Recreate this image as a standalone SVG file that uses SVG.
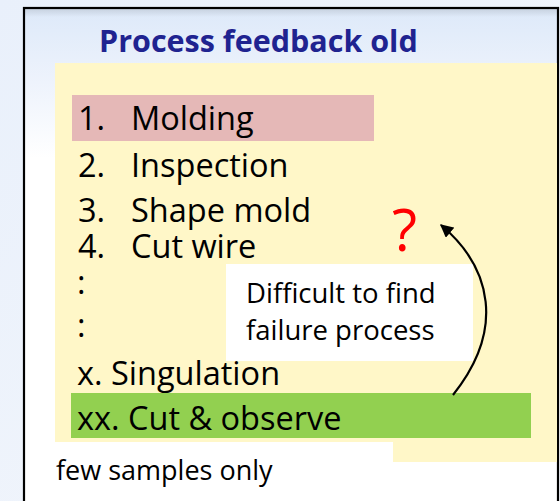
<svg xmlns="http://www.w3.org/2000/svg" width="560" height="501" viewBox="0 0 560 501">
<defs>
<linearGradient id="bg" x1="0" y1="0" x2="1" y2="1">
<stop offset="0" stop-color="#e9f0fb"/>
<stop offset="1" stop-color="#f4f7fc"/>
</linearGradient>
<linearGradient id="inner" x1="0" y1="0" x2="0" y2="1">
<stop offset="0" stop-color="#dde9f9"/>
<stop offset="0.15" stop-color="#eef3fc"/>
<stop offset="0.3" stop-color="#ffffff"/>
<stop offset="1" stop-color="#ffffff"/>
</linearGradient>
<linearGradient id="shadow" x1="0" y1="0" x2="0" y2="1">
<stop offset="0" stop-color="#b9c2cf"/>
<stop offset="1" stop-color="#b9c2cf" stop-opacity="0"/>
</linearGradient>
<marker id="ah" viewBox="0 0 10 10" refX="9" refY="5" markerWidth="6" markerHeight="6" orient="auto" markerUnits="strokeWidth">
<path d="M0,0 L10,5 L0,10 z" fill="#000"/>
</marker>
<style>
.t{font-family:"Open Sans","Noto Sans","Liberation Sans",sans-serif;fill:#000;}
.big{font-size:32.5px;}
.mid{font-size:27.5px;}
.small{font-size:27px;}
.title{font-family:"Open Sans","Noto Sans","Liberation Sans",sans-serif;font-weight:bold;font-size:30.5px;fill:#1f2390;}
</style>
</defs>
<rect x="0" y="0" width="560" height="501" fill="url(#bg)"/>
<g id="frame">
<rect x="24" y="8" width="534" height="500" fill="url(#inner)"/>
<rect x="25" y="9" width="532" height="8" fill="url(#shadow)" opacity="0.6"/>
<rect x="24" y="8" width="534" height="500" fill="none" stroke="#000" stroke-width="2.2"/>
</g>
<g id="title">
<text class="title" x="99" y="52">Process feedback old</text>
</g>
<g id="panel">
<rect x="55" y="63" width="502" height="399" fill="#fff7c8"/>
<rect x="55" y="442" width="338" height="20" fill="#ffffff"/>
</g>
<g id="item1">
<rect x="72" y="95" width="302" height="46" fill="#e5b8b7"/>
<text class="t big" x="78" y="130">1.</text>
<text class="t big" x="131" y="130">Molding</text>
</g>
<g id="item2">
<text class="t big" x="78" y="177">2.</text>
<text class="t big" x="131" y="177">Inspection</text>
</g>
<g id="item3">
<text class="t big" x="78" y="222">3.</text>
<text class="t big" x="131" y="222">Shape mold</text>
</g>
<g id="item4">
<text class="t big" x="78" y="258">4.</text>
<text class="t big" x="131" y="258">Cut wire</text>
</g>
<g id="dots">
<text class="t big" x="77" y="294">:</text>
<text class="t big" x="77" y="337">:</text>
</g>
<g id="itemx">
<text class="t big" x="77" y="385">x. Singulation</text>
</g>
<g id="itemxx">
<rect x="71" y="393" width="460" height="45" fill="#92d050"/>
<text class="t big" x="77" y="430">xx. Cut &amp; observe</text>
</g>
<g id="note">
<rect x="226" y="264" width="247" height="97" fill="#ffffff"/>
<text class="t mid" x="246" y="303">Difficult to find</text>
<text class="t mid" x="246" y="340">failure process</text>
</g>
<g id="question">
<text x="392" y="251" font-family="'Open Sans','Noto Sans','Liberation Sans',sans-serif" font-size="58" fill="#ff0000">?</text>
</g>
<g id="connectors">
<path d="M453,395 C505,330 492,268 441,225" fill="none" stroke="#000" stroke-width="2.2" marker-end="url(#ah)"/>
</g>
<g id="footer">
<text class="t small" x="56" y="480">few samples only</text>
</g>
</svg>
